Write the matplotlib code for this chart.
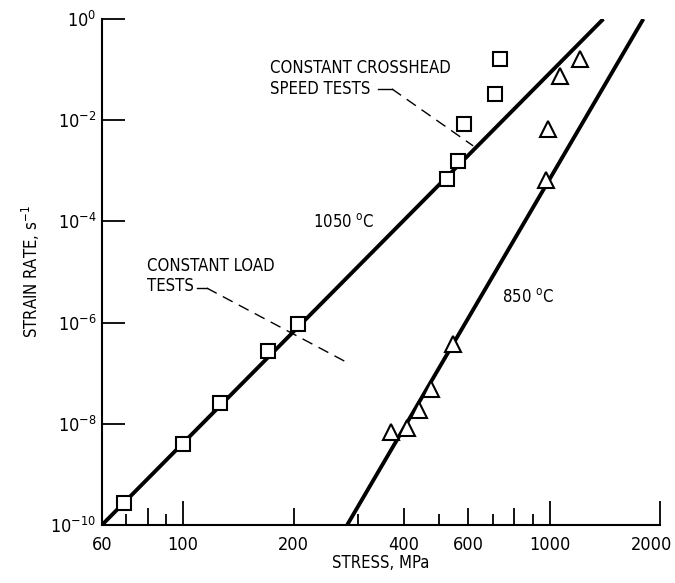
import numpy as np
import matplotlib
matplotlib.use("Agg")
from matplotlib import pyplot as plt
from matplotlib import transforms
from matplotlib.ticker import FixedLocator, FixedFormatter, NullFormatter

plt.rcParams['font.family'] = ['DejaVu Sans']
plt.rcParams['font.stretch'] = 'condensed'
plt.rcParams['mathtext.fontset'] = 'custom'
plt.rcParams['mathtext.rm'] = 'DejaVu Sans:stretch=condensed'
plt.rcParams['mathtext.it'] = 'DejaVu Sans:stretch=condensed'

# creep data, stress (MPa) vs strain rate (1/s)
stress_1050 = [69, 100, 126, 170, 205, 524, 562, 584, 709, 732]
rate_1050 = [2.7e-10, 4.0e-9, 2.6e-8, 2.8e-7, 9.3e-7, 6.9e-4, 1.55e-3, 8.3e-3, 3.3e-2, 1.6e-1]

stress_850 = [369, 408, 439, 474, 545, 977, 988, 1067, 1208]
rate_850 = [6.9e-9, 8.3e-9, 1.9e-8, 4.9e-8, 3.8e-7, 6.6e-4, 6.8e-3, 7.4e-2, 1.6e-1]

# fitted lines
fit_1050_x = [60, 1400]
fit_1050_y = [1e-10, 1.0]
fit_850_x = [280, 1800]
fit_850_y = [1e-10, 1.0]

x_ticks = [60, 100, 200, 400, 600, 1000, 2000]
x_minor = [70, 80, 90, 300, 500, 700, 800, 900]
y_ticks = [1e-10, 1e-8, 1e-6, 1e-4, 1e-2, 1e0]
y_labels = [r'$\mathdefault{10^{-10}}$', r'$\mathdefault{10^{-8}}$', r'$\mathdefault{10^{-6}}$',
            r'$\mathdefault{10^{-4}}$', r'$\mathdefault{10^{-2}}$', r'$\mathdefault{10^{0}}$']

fig = plt.figure(figsize=(6.75, 5.83), dpi=100)
ax = fig.add_axes([0.151, 0.0995, 0.827, 0.868])
ax.set_xscale('log')
ax.set_yscale('log')
ax.set_xlim(60, 2000)
ax.set_ylim(1e-10, 1e0)

ax.plot(fit_1050_x, fit_1050_y, color='black', lw=2.8, solid_capstyle='butt', zorder=2)
ax.plot(fit_850_x, fit_850_y, color='black', lw=2.8, solid_capstyle='butt', zorder=2)
ax.plot(stress_1050, rate_1050, 's', ms=10, mfc='white', mec='black', mew=1.5, zorder=3, clip_on=False)
ax.plot(stress_850, rate_850, '^', ms=12, mfc='white', mec='black', mew=1.5, zorder=3, clip_on=False)

# labels and leader lines
ax.text(172, 0.0667, 'CONSTANT CROSSHEAD\nSPEED TESTS', fontsize=12, va='center', ha='left', linespacing=1.2)
ax.plot([340, 371], [0.0414, 0.0414], color='black', lw=1)
ax.plot([371, 618], [0.0414, 3.1e-3], color='black', lw=1, dashes=(8, 5))

ax.text(79.7, 8.3e-6, 'CONSTANT LOAD\nTESTS', fontsize=12, va='center', ha='left', linespacing=1.2)
ax.plot([109, 116], [4.8e-6, 4.8e-6], color='black', lw=1)
ax.plot([116, 281], [4.8e-6, 1.6e-7], color='black', lw=1, dashes=(8, 5))

ax.text(226, 9.8e-5, r'1050 $^{\mathdefault{o}}$C', fontsize=12, va='center', ha='left')
ax.text(741, 3.2e-6, r'850 $^{\mathdefault{o}}$C', fontsize=12, va='center', ha='left')

ax.set_xlabel('STRESS, MPa', fontsize=12, labelpad=0)
ax.set_ylabel(r'STRAIN RATE, s$^{\mathdefault{-1}}$', fontsize=12, labelpad=6)

for s in ['top', 'right']:
    ax.spines[s].set_visible(False)
for s in ['left', 'bottom']:
    ax.spines[s].set_linewidth(1.5)

ax.xaxis.set_major_locator(FixedLocator(x_ticks))
ax.xaxis.set_major_formatter(FixedFormatter([str(v) for v in x_ticks]))
ax.xaxis.set_minor_locator(FixedLocator(x_minor))
ax.xaxis.set_minor_formatter(NullFormatter())
ax.yaxis.set_major_locator(FixedLocator(y_ticks))
ax.yaxis.set_major_formatter(FixedFormatter(y_labels))
ax.yaxis.set_minor_locator(FixedLocator([]))

ax.tick_params(which='major', direction='in', length=12, width=1.3, labelsize=13, pad=8)
ax.tick_params(which='minor', direction='in', length=8, width=1.3)
ax.tick_params(axis='y', which='major', length=16.5, pad=4)

# decade ticks drawn longer, 80/800 medium
for t, v in zip(ax.xaxis.get_major_ticks(), x_ticks):
    if v in (100, 1000, 2000):
        t.tick1line.set_markersize(17)
    if v == 2000:
        # pull the last label inside the figure edge
        shift = transforms.ScaledTranslation(-6 / 72, 0, fig.dpi_scale_trans)
        t.label1.set_transform(t.label1.get_transform() + shift)
for t, v in zip(ax.xaxis.get_minor_ticks(), x_minor):
    if v in (80, 800):
        t.tick1line.set_markersize(12)

fig.savefig('out.png', dpi=100)
